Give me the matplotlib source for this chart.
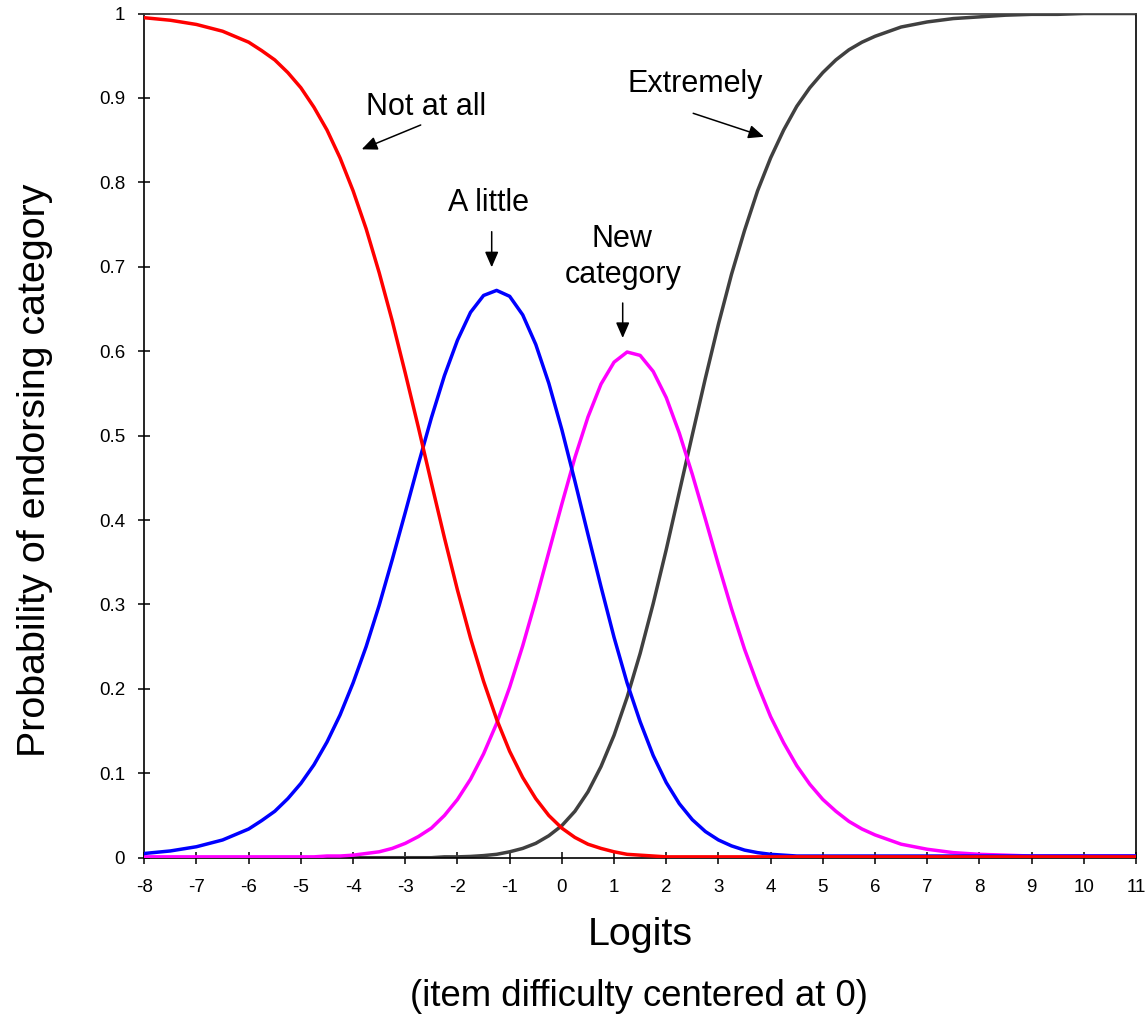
import numpy as np
import matplotlib
matplotlib.use("Agg")
import matplotlib.pyplot as plt

plt.rcParams['font.family'] = ['Liberation Sans', 'DejaVu Sans']

# ---------------- data ----------------
logits = [-8, -7.5, -7, -6.5, -6, -5.75, -5.5, -5.25, -5, -4.75, -4.5, -4.25,
          -4, -3.75, -3.5, -3.25, -3, -2.75, -2.5, -2.25, -2, -1.75, -1.5, -1.25,
          -1, -0.75, -0.5, -0.25, 0, 0.25, 0.5, 0.75, 1, 1.25, 1.5, 1.75,
          2, 2.25, 2.5, 2.75, 3, 3.25, 3.5, 3.75, 4, 4.25, 4.5, 4.75,
          5, 5.25, 5.5, 5.75, 6, 6.5, 7, 7.5, 8, 8.5, 9, 9.5, 10, 10.5, 11]

not_at_all = [0.995, 0.992, 0.987, 0.979, 0.966, 0.956, 0.945, 0.930, 0.912, 0.889, 0.862, 0.829,
              0.790, 0.745, 0.693, 0.636, 0.574, 0.510, 0.444, 0.379, 0.317, 0.260, 0.209, 0.164,
              0.126, 0.095, 0.070, 0.050, 0.035, 0.024, 0.016, 0.011, 0.007, 0.004, 0.003, 0.002,
              0.001, 0.001, 0.001, 0.001, 0.001, 0.001, 0.001, 0.001, 0.001, 0.001, 0.001, 0.001,
              0.001, 0.001, 0.001, 0.001, 0.001, 0.001, 0.001, 0.001, 0.001, 0.001, 0.001, 0.001,
              0.001, 0.001, 0.001]

a_little = [0.005, 0.008, 0.013, 0.021, 0.034, 0.044, 0.055, 0.070, 0.088, 0.110, 0.137, 0.169,
            0.207, 0.250, 0.299, 0.353, 0.409, 0.466, 0.521, 0.571, 0.613, 0.646, 0.666, 0.672,
            0.665, 0.643, 0.608, 0.562, 0.507, 0.446, 0.383, 0.321, 0.261, 0.207, 0.161, 0.121,
            0.089, 0.064, 0.045, 0.031, 0.021, 0.014, 0.009, 0.006, 0.004, 0.003, 0.002, 0.002,
            0.002, 0.002, 0.002, 0.002, 0.002, 0.002, 0.002, 0.002, 0.002, 0.002, 0.002, 0.002,
            0.002, 0.002, 0.002]

new_category = [0.001, 0.001, 0.001, 0.001, 0.001, 0.001, 0.001, 0.001, 0.001, 0.001, 0.002, 0.002,
                0.003, 0.005, 0.007, 0.011, 0.017, 0.025, 0.035, 0.050, 0.069, 0.093, 0.123, 0.159,
                0.202, 0.251, 0.305, 0.362, 0.419, 0.474, 0.522, 0.561, 0.587, 0.599, 0.595, 0.576,
                0.545, 0.503, 0.454, 0.401, 0.347, 0.295, 0.247, 0.205, 0.167, 0.136, 0.109, 0.087,
                0.069, 0.055, 0.043, 0.034, 0.027, 0.016, 0.010, 0.006, 0.004, 0.003, 0.002, 0.002,
                0.002, 0.002, 0.002]

extremely = [0.000, 0.000, 0.000, 0.000, 0.000, 0.000, 0.000, 0.000, 0.000, 0.000, 0.000, 0.000,
             0.000, 0.000, 0.000, 0.000, 0.000, 0.000, 0.000, 0.001, 0.001, 0.0015, 0.0025, 0.004,
             0.007, 0.011, 0.017, 0.026, 0.038, 0.055, 0.078, 0.108, 0.145, 0.190, 0.242, 0.301,
             0.365, 0.433, 0.501, 0.568, 0.632, 0.691, 0.743, 0.790, 0.829, 0.862, 0.890, 0.912,
             0.930, 0.945, 0.957, 0.966, 0.973, 0.984, 0.990, 0.994, 0.996, 0.998, 0.999, 0.999,
             1.000, 1.000, 1.000]

x_ticks = list(range(-8, 12))
x_tick_labels = [str(v) for v in x_ticks]
y_ticks = [0, 0.1, 0.2, 0.3, 0.4, 0.5, 0.6, 0.7, 0.8, 0.9, 1.0]
y_tick_labels = ["0", "0.1", "0.2", "0.3", "0.4", "0.5", "0.6", "0.7", "0.8", "0.9", "1"]

# ---------------- figure ----------------
W, H = 1146, 1018
fig = plt.figure(figsize=(W / 100, H / 100), dpi=100)
left, right, top, bottom = 144.3, 1136.0, 13.5, 857.7
ax = fig.add_axes([left / W, 1 - bottom / H, (right - left) / W, (bottom - top) / H])

lw = 2.5
ax.plot(logits, extremely, color='#404040', lw=lw, zorder=2)
ax.plot(logits, new_category, color='#FF00FF', lw=lw, zorder=3)
ax.plot(logits, a_little, color='#0000FF', lw=lw, zorder=4)
ax.plot(logits, not_at_all, color='#FF0000', lw=lw, zorder=5)

ax.set_xlim(-8, 11)
ax.set_ylim(0, 1)
ax.set_xticks(x_ticks)
ax.set_xticklabels(x_tick_labels)
ax.set_yticks(y_ticks)
ax.set_yticklabels(y_tick_labels)
ax.tick_params(axis='both', direction='inout', length=8.6, width=1.1,
               labelsize=13.5, colors='black')
ax.tick_params(axis='x', pad=11)
ax.tick_params(axis='y', pad=9.5)
for side in ['left', 'bottom', 'right']:
    ax.spines[side].set_linewidth(1.2)
    ax.spines[side].set_color('black')
ax.spines['top'].set_linewidth(1.2)
ax.spines['top'].set_color('#404040')

# ---------------- axis titles ----------------
fig.text(45 / W, 1 - 470.7 / H, 'Probability of endorsing category',
         rotation=90, rotation_mode='anchor', ha='center', va='baseline', fontsize=28.4)
fig.text(640.5 / W, 1 - 945 / H, 'Logits', ha='center', va='baseline', fontsize=28.4)
fig.text(639 / W, 1 - 1006 / H, '(item difficulty centered at 0)',
         ha='center', va='baseline', fontsize=26.3)

# ---------------- annotations ----------------
fs = 22
fig.text(426 / W, 1 - 115 / H, 'Not at all', ha='center', va='baseline', fontsize=fs)
fig.text(489 / W, 1 - 211 / H, 'A little', ha='center', va='baseline', fontsize=fs)
fig.text(622 / W, 1 - 246.7 / H, 'New', ha='center', va='baseline', fontsize=fs)
fig.text(623 / W, 1 - 283 / H, 'category', ha='center', va='baseline', fontsize=fs)
fig.text(695 / W, 1 - 91.7 / H, 'Extremely', ha='center', va='baseline', fontsize=fs)

arrow_style = dict(arrowstyle='-|>,head_length=0.55,head_width=0.24', color='black',
                   lw=1.1, shrinkA=0, shrinkB=0, mutation_scale=17)


def arrow(x0, y0, x1, y1):
    ax.annotate('', xy=(x1, H - y1), xytext=(x0, H - y0),
                xycoords='figure pixels', textcoords='figure pixels',
                arrowprops=arrow_style, annotation_clip=False)


arrow(420.7, 125, 361.7, 149.3)
arrow(491.7, 231.7, 491.7, 267.3)
arrow(622.7, 303, 622.7, 338)
arrow(693.2, 113.3, 764, 136.7)

fig.savefig('out.png', dpi=100, facecolor='white')
